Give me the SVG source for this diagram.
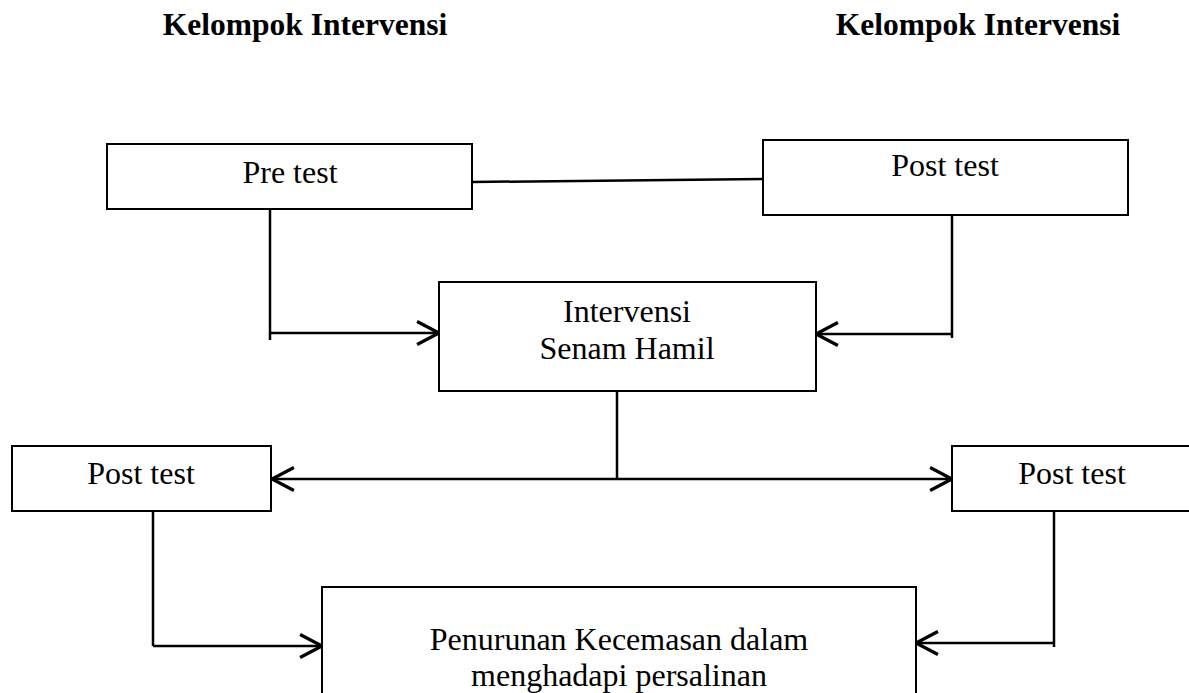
<svg xmlns="http://www.w3.org/2000/svg" width="1189" height="693" viewBox="0 0 1189 693">
<style>
.box{fill:#fff;stroke:#000;stroke-width:2}
.t{font-family:"Liberation Serif","Times New Roman",serif;font-size:32px;fill:#000;text-anchor:middle}
.title{font-family:"Liberation Serif","Times New Roman",serif;font-size:31.5px;font-weight:bold;fill:#000;text-anchor:middle}
.c{fill:none;stroke:#000;stroke-width:2.5}
.a{fill:none;stroke:#000;stroke-width:2.5;marker-end:url(#arr)}
</style>
<defs>
<marker id="arr" markerUnits="userSpaceOnUse" markerWidth="30" markerHeight="30" viewBox="-22 -13 26 26" refX="0" refY="0" orient="auto">
<path d="M-19,-10 L0,0 L-19,10" fill="none" stroke="#000" stroke-width="2.8"/>
</marker>
</defs>
<rect width="1189" height="693" fill="#fff"/>
<text class="title" x="305" y="35">Kelompok Intervensi</text>
<text class="title" x="978" y="35">Kelompok Intervensi</text>
<g id="connectors">
<path class="c" d="M472,182 L763,179"/>
<path class="c" d="M270,204 V340"/>
<path class="a" d="M270,333 H439"/>
<path class="c" d="M952,210 V338"/>
<path class="a" d="M952,334 H816"/>
<path class="c" d="M617,391 V479"/>
<path class="a" d="M617,479 H272"/>
<path class="a" d="M617,479 H952"/>
<path class="c" d="M153,511 V646"/>
<path class="a" d="M153,646 H322"/>
<path class="c" d="M1054,511 V647"/>
<path class="a" d="M1054,643 H916"/>
</g>
<g id="pretest">
<rect class="box" x="107" y="144" width="365" height="65"/>
<text class="t" x="290" y="183">Pre test</text>
</g>
<g id="posttest-top">
<rect class="box" x="763" y="140" width="365" height="75"/>
<text class="t" x="945" y="176">Post test</text>
</g>
<g id="intervensi">
<rect class="box" x="439" y="282" width="377" height="109"/>
<text class="t" x="627" y="322">Intervensi</text>
<text class="t" x="627" y="359">Senam Hamil</text>
</g>
<g id="posttest-left">
<rect class="box" x="12" y="446" width="259" height="65"/>
<text class="t" x="141" y="484">Post test</text>
</g>
<g id="posttest-right">
<rect class="box" x="952" y="446" width="250" height="65"/>
<text class="t" x="1072" y="484">Post test</text>
</g>
<g id="hasil">
<rect class="box" x="322" y="587" width="594" height="120"/>
<text class="t" x="619" y="650">Penurunan Kecemasan dalam</text>
<text class="t" x="619" y="686">menghadapi persalinan</text>
</g>
</svg>
